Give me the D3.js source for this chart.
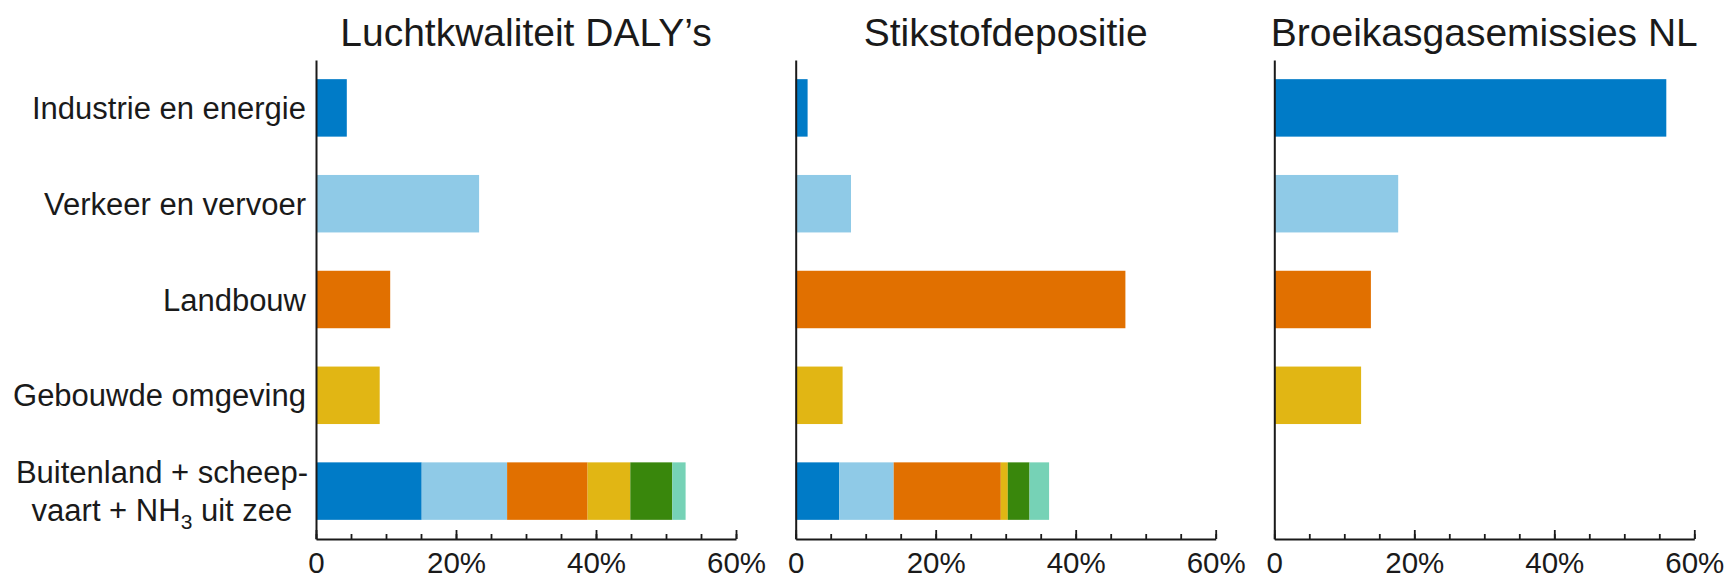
<!DOCTYPE html>
<html>
<head>
<meta charset="utf-8">
<script src="https://cdn.jsdelivr.net/npm/d3@7"></script>
<style>
  body { margin: 0; background: #fff; }
  text { font-family: "Liberation Sans", Arial, sans-serif; fill: #1a1a1a; }
</style>
</head>
<body>
<div id="chart"></div>
<script>
// categories (rows), same for all three panels
var categories = ["Industrie en energie", "Verkeer en vervoer", "Landbouw", "Gebouwde omgeving", "Buitenland"];
var titles = ["Luchtkwaliteit DALY\u2019s", "Stikstofdepositie", "Broeikasgasemissies NL"];

// percentages per sector (first four rows)
var dalyValues = [4.4, 23.3, 10.6, 9.1];
var stikstofValues = [1.7, 7.9, 47.1, 6.7];
var broeikasValues = [56.0, 17.7, 13.8, 12.4];

// last row: foreign + shipping + NH3 from sea, stacked per source
var dalyBuitenland = [15.1, 12.2, 11.5, 6.1, 6.0, 1.9];
var stikstofBuitenland = [6.2, 7.8, 15.3, 1.0, 3.1, 2.8];
var broeikasBuitenland = [];

var colors = ["#007BC7", "#8FCAE7", "#E17000", "#E1B614", "#39870C", "#76D2B6"];
var majorTicks = [0, 20, 40, 60];
var tickLabels = ["0", "20%", "40%", "60%"];
var minorTicks = d3.range(0, 61, 5);

var w = 1729,
    h = 580,
    panelX = [316, 795.7, 1274.3],
    panelW = 420;

var svg = d3.select("#chart")
            .append("svg")
            .attr("width", w)
            .attr("height", h);

var y = d3.scaleBand()
    .domain(categories)
    .range([60, 539])
    .paddingInner(0.4)
    .paddingOuter(0.2);

var panels = [
  { title: titles[0], values: dalyValues, stack: dalyBuitenland },
  { title: titles[1], values: stikstofValues, stack: stikstofBuitenland },
  { title: titles[2], values: broeikasValues, stack: broeikasBuitenland }
];

panels.forEach(function (p, pi) {
  var x = d3.scaleLinear().domain([0, 60]).range([panelX[pi], panelX[pi] + panelW]);
  var g = svg.append("g");

  // title
  g.append("text")
    .attr("x", panelX[pi] + panelW / 2)
    .attr("y", 45.7)
    .attr("text-anchor", "middle")
    .attr("font-size", 39)
    .text(p.title);

  // single bars
  g.selectAll("rect.single")
    .data(p.values)
    .enter()
    .append("rect")
      .attr("class", "single")
      .attr("x", x(0))
      .attr("y", function (d, i) { return y(categories[i]); })
      .attr("width", function (d) { return x(d) - x(0); })
      .attr("height", y.bandwidth())
      .attr("fill", function (d, i) { return colors[i]; });

  // stacked bar for the last row
  var ends = Array.from(d3.cumsum(p.stack));
  g.selectAll("rect.stack")
    .data(p.stack)
    .enter()
    .append("rect")
      .attr("class", "stack")
      .attr("x", function (d, i) { return x(ends[i] - d); })
      .attr("y", y(categories[4]))
      .attr("width", function (d) { return x(d) - x(0); })
      .attr("height", y.bandwidth())
      .attr("fill", function (d, i) { return colors[i]; });

  // x axis: minor ticks, then major ticks with labels
  var minor = d3.axisBottom(x).tickValues(minorTicks).tickSize(-5).tickFormat("");
  var major = d3.axisBottom(x).tickValues(majorTicks).tickSizeInner(-9).tickSizeOuter(0)
      .tickPadding(13)
      .tickFormat(function (d, i) { return tickLabels[i]; });

  g.append("g")
    .attr("transform", "translate(0,539)")
    .call(minor)
    .call(function (a) { a.select(".domain").remove(); })
    .selectAll("line").attr("stroke", "#1a1a1a").attr("stroke-width", 1.8);

  var ax = g.append("g")
    .attr("transform", "translate(0,539)")
    .call(major);
  ax.select(".domain").attr("stroke", "#1a1a1a").attr("stroke-width", 2);
  ax.selectAll("line").attr("stroke", "#1a1a1a").attr("stroke-width", 1.8);
  ax.selectAll("text")
    .attr("font-size", 29.5)
    .attr("font-family", "Liberation Sans, Arial, sans-serif")
    .attr("fill", "#1a1a1a");

  // y axis line
  var yAxis = d3.axisLeft(y).tickSize(0).tickFormat("");
  g.append("g")
    .attr("transform", "translate(" + x(0) + ",0)")
    .call(yAxis)
    .select(".domain")
      .attr("stroke", "#1a1a1a")
      .attr("stroke-width", 2);
});

// category labels, only left of the first panel
var labelX = panelX[0] - 10;
svg.selectAll("text.cat")
  .data(categories.slice(0, 4))
  .enter()
  .append("text")
    .attr("class", "cat")
    .attr("x", labelX)
    .attr("y", function (d) { return y(d) + y.bandwidth() / 2 + 11; })
    .attr("text-anchor", "end")
    .attr("font-size", 31)
    .text(function (d) { return d; });

var yc = y(categories[4]) + y.bandwidth() / 2 + 11;
var line1 = svg.append("text")
    .attr("x", labelX + 2)
    .attr("y", yc - 19)
    .attr("text-anchor", "end")
    .attr("font-size", 31)
    .text("Buitenland + scheep-");
var l1w = line1.node().getComputedTextLength();

var line2 = svg.append("text")
    .attr("x", labelX + 2 - l1w / 2)
    .attr("y", yc + 19)
    .attr("text-anchor", "middle")
    .attr("font-size", 31);
line2.append("tspan").text("vaart + NH");
line2.append("tspan").attr("font-size", 21).attr("dy", 8).text("3");
line2.append("tspan").attr("dy", -8).text(" uit zee");
</script>
</body>
</html>
